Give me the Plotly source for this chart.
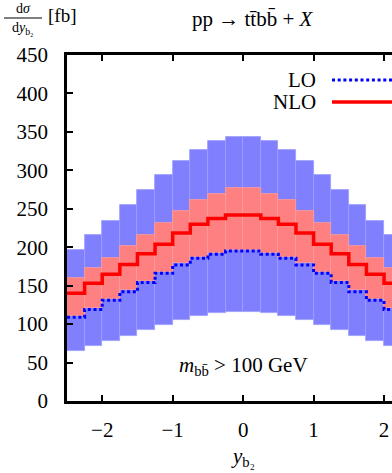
import plotly.graph_objects as go

# bin edges in y_b2 (bins of 0.25, symmetric around 0)
bin_edges = [-2.5 + 0.25 * i for i in range(21)]

# half spectra (bins from -2.5 to 0), mirrored below
half_blue_hi = [197, 216, 234, 254.5, 274, 294, 312, 327, 338, 344]
half_blue_lo = [65, 71, 78, 84.5, 92, 99, 105, 110.5, 114, 116]
half_red_hi = [160, 172.5, 185.5, 202, 216.5, 232, 247, 261, 269, 276.5]
half_red_lo = [111, 121, 133, 144, 156, 168, 179, 187.5, 193, 197]
half_nlo = [140, 153, 165, 177.5, 191.5, 204, 218.5, 230, 237.5, 242]
half_lo = [109, 119, 131, 142, 154, 166, 177, 185.5, 191, 195]

blue_hi = half_blue_hi + half_blue_hi[::-1]
blue_lo = half_blue_lo + half_blue_lo[::-1]
red_hi = half_red_hi + half_red_hi[::-1]
red_lo = half_red_lo + half_red_lo[::-1]
nlo = half_nlo + half_nlo[::-1]
lo = half_lo + half_lo[::-1]

y_ticks = [0, 50, 100, 150, 200, 250, 300, 350, 400, 450]
x_ticks = [-2, -1, 0, 1, 2]
x_ticklabels = ["\u22122", "\u22121", "0", "1", "2"]

centers = [(a + b) / 2 for a, b in zip(bin_edges[:-1], bin_edges[1:])]

FONT = "Liberation Serif"
W, H = 392, 473
ML, MR, MT, MB = 67, 0, 55, 72


def px(x):
    return (x - ML) / (W - ML - MR)


def py(y):
    return (H - MB - y) / (H - MT - MB)


fig = go.Figure()

# scale-uncertainty bands
fig.add_trace(go.Bar(
    x=centers, y=[h - l for h, l in zip(blue_hi, blue_lo)], base=blue_lo,
    width=0.25, marker=dict(color="#8080ff", line=dict(color="#9c9cff", width=0.8)),
    showlegend=False, hoverinfo="skip"
))
fig.add_trace(go.Bar(
    x=centers, y=[h - l for h, l in zip(red_hi, red_lo)], base=red_lo,
    width=0.25, marker=dict(color="#ff8080", line=dict(color="#ff9c9c", width=0.8)),
    showlegend=False, hoverinfo="skip"
))

# central values as histograms
fig.add_trace(go.Scatter(
    x=bin_edges, y=lo + lo[-1:], mode="lines", line_shape="hv",
    line=dict(color="#0000ff", width=3, dash="3px,2.7px"), showlegend=False
))
fig.add_trace(go.Scatter(
    x=bin_edges, y=nlo + nlo[-1:], mode="lines", line_shape="hv",
    line=dict(color="#ff0000", width=3.5), showlegend=False
))

# legend drawn by hand (text right, sample left like the original)
for label, ypix, style in [("LO", 80, dict(color="#0000ff", width=3, dash="3px,2.7px")),
                           ("NLO", 102, dict(color="#ff0000", width=3.5))]:
    fig.add_annotation(x=px(318), y=py(ypix), xref="paper", yref="paper", text=label,
                       showarrow=False, xanchor="right", yanchor="middle",
                       font=dict(family=FONT, size=21, color="black"))
    fig.add_shape(type="line", xref="paper", yref="paper", x0=px(332), x1=px(395),
                  y0=py(ypix), y1=py(ypix), line=style)

# title and labels
fig.add_annotation(x=px(253), y=py(19), xref="paper", yref="paper",
                   text="pp \u2192 tt\u0304bb\u0304 + <i>X</i>", showarrow=False,
                   xanchor="center", yanchor="middle",
                   font=dict(family=FONT, size=21, color="black"))
fig.add_annotation(x=px(23), y=py(9), xref="paper", yref="paper", text="d<i>\u03c3</i>",
                   showarrow=False, xanchor="center", yanchor="middle",
                   font=dict(family=FONT, size=14, color="black"))
fig.add_shape(type="line", xref="paper", yref="paper", x0=px(4), x1=px(42),
              y0=py(18), y1=py(18), line=dict(color="black", width=1))
fig.add_annotation(x=px(23), y=py(28), xref="paper", yref="paper",
                   text="d<i>y</i><sub>b\u2082</sub>", showarrow=False,
                   xanchor="center", yanchor="middle",
                   font=dict(family=FONT, size=14, color="black"))
fig.add_annotation(x=px(46), y=py(16), xref="paper", yref="paper", text="[fb]",
                   showarrow=False, xanchor="left", yanchor="middle",
                   font=dict(family=FONT, size=19, color="black"))
fig.add_annotation(x=px(243), y=py(366), xref="paper", yref="paper",
                   text="<i>m</i><sub>bb\u0304</sub> > 100 GeV", showarrow=False,
                   xanchor="center", yanchor="middle",
                   font=dict(family=FONT, size=21, color="black"))
fig.add_annotation(x=px(243), y=py(457), xref="paper", yref="paper",
                   text="<i>y</i><sub>b\u2082</sub>", showarrow=False,
                   xanchor="center", yanchor="middle",
                   font=dict(family=FONT, size=21, color="black"))

fig.update_layout(
    width=W, height=H,
    margin=dict(l=ML, r=MR, t=MT, b=MB),
    barmode="overlay", bargap=0,
    plot_bgcolor="white", paper_bgcolor="white",
    font=dict(family=FONT, size=21, color="black"),
    xaxis=dict(range=[-2.5, 2.113], tickvals=x_ticks, ticktext=x_ticklabels,
               ticks="inside", ticklen=6, tickwidth=1.5, tickcolor="black",
               showline=True, linecolor="black", linewidth=2.5, mirror="ticks",
               showgrid=False, zeroline=False, ticklabelstandoff=8),
    yaxis=dict(range=[0, 450], tickvals=y_ticks,
               ticks="inside", ticklen=6, tickwidth=1.5, tickcolor="black",
               showline=True, linecolor="black", linewidth=2.5,
               showgrid=False, zeroline=False, ticklabelstandoff=12),
)

fig.write_html("out.html", config={"displayModeBar": False},
               post_script="document.body.style.margin='0';")
